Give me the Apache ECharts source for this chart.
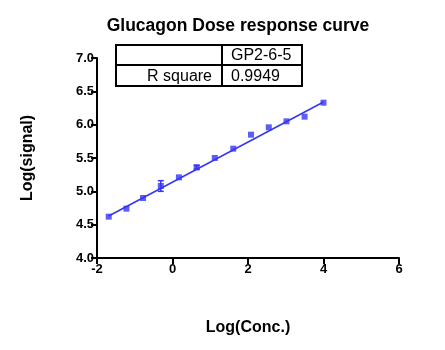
<!DOCTYPE html>
<html><head><meta charset="utf-8">
<script src="https://cdn.jsdelivr.net/npm/echarts@6/dist/echarts.min.js"></script>
<style>html,body{margin:0;padding:0;background:#fff}#c{width:445px;height:350px}</style>
</head><body><div id="c"></div>
<script>
const logConc = [-1.69, -1.22, -0.78, -0.31, 0.17, 0.64, 1.12, 1.61, 2.08, 2.55, 3.02, 3.50, 4.00];
const logSignal = [4.62, 4.74, 4.90, 5.08, 5.21, 5.36, 5.50, 5.64, 5.85, 5.96, 6.05, 6.12, 6.33];
const errBar = [0, 0, 0, 0.08, 0, 0.03, 0, 0, 0, 0, 0, 0, 0];
const fitX = [-1.69, 4.00];
const fitY = [4.63, 6.34];
const xTicks = [-2, 0, 2, 4, 6];
const yTicks = [4.0, 4.5, 5.0, 5.5, 6.0, 6.5, 7.0];
const tableRows = [["", "GP2-6-5"], ["R square", "0.9949"]];

const blue = '#3535f5';
const font = 'Liberation Sans, Arial, sans-serif';
const chart = echarts.init(document.getElementById('c'), null, {renderer: 'canvas'});

const pts = logConc.map((x, i) => [x, logSignal[i]]);
const errData = logConc.map((x, i) => [x, logSignal[i] - errBar[i], logSignal[i] + errBar[i]]).filter((d, i) => errBar[i] > 0);

const tx = 116, ty = 45, tw = 186, th = 41, colX = 222, rowY = 65;
const tableGraphic = [
  {type: 'rect', shape: {x: tx, y: ty, width: tw, height: th}, style: {fill: '#fff', stroke: '#000', lineWidth: 2}},
  {type: 'line', shape: {x1: tx, y1: rowY, x2: tx + tw, y2: rowY}, style: {stroke: '#000', lineWidth: 2}},
  {type: 'line', shape: {x1: colX, y1: ty, x2: colX, y2: ty + th}, style: {stroke: '#000', lineWidth: 2}},
  {type: 'text', style: {text: tableRows[0][1], x: colX + 9, y: (ty + rowY) / 2 + 1, font: '16px ' + font, fill: '#000', textVerticalAlign: 'middle'}},
  {type: 'text', style: {text: tableRows[1][0], x: colX - 10, y: (rowY + ty + th) / 2 + 1, font: '16px ' + font, fill: '#000', textAlign: 'right', textVerticalAlign: 'middle'}},
  {type: 'text', style: {text: tableRows[1][1], x: colX + 9, y: (rowY + ty + th) / 2 + 1, font: '16px ' + font, fill: '#000', textVerticalAlign: 'middle'}}
];

chart.setOption({
  animation: false,
  backgroundColor: '#fff',
  title: {text: 'Glucagon Dose response curve', left: 233, textAlign: 'center', top: 12,
    textStyle: {fontFamily: font, fontWeight: 'bold', fontSize: 17.5, color: '#000'}},
  grid: {left: 97, right: 46, top: 58, bottom: 92},
  xAxis: {type: 'value', min: xTicks[0], max: xTicks[xTicks.length - 1], interval: 2,
    name: 'Log(Conc.)', nameLocation: 'middle', nameGap: 62,
    nameTextStyle: {fontFamily: font, fontWeight: 'bold', fontSize: 16, color: '#000'},
    axisLine: {onZero: false, lineStyle: {color: '#000', width: 2}},
    axisTick: {show: true, length: 6, lineStyle: {color: '#000', width: 2}},
    axisLabel: {fontFamily: font, fontWeight: 'bold', fontSize: 13, color: '#000', margin: 5},
    splitLine: {show: false}},
  yAxis: {type: 'value', min: yTicks[0], max: yTicks[yTicks.length - 1], interval: 0.5,
    name: 'Log(signal)', nameLocation: 'middle', nameGap: 61, nameRotate: 90,
    nameTextStyle: {fontFamily: font, fontWeight: 'bold', fontSize: 16, color: '#000'},
    axisLine: {show: true, onZero: false, lineStyle: {color: '#000', width: 2}},
    axisTick: {show: true, length: 6, lineStyle: {color: '#000', width: 2}},
    axisLabel: {fontFamily: font, fontWeight: 'bold', fontSize: 13, color: '#000', margin: 3,
      formatter: v => v.toFixed(1)},
    splitLine: {show: false}},
  series: [
    {type: 'line', data: fitX.map((x, i) => [x, fitY[i]]), symbol: 'none',
      lineStyle: {color: blue, width: 1.5}, z: 2},
    {type: 'custom', data: errData, z: 3,
      renderItem: (params, api) => {
        const lo = api.coord([api.value(0), api.value(1)]);
        const hi = api.coord([api.value(0), api.value(2)]);
        const w = 3;
        return {type: 'group', children: [
          {type: 'line', shape: {x1: lo[0], y1: lo[1], x2: hi[0], y2: hi[1]}, style: {stroke: blue, lineWidth: 1.5}},
          {type: 'line', shape: {x1: lo[0] - w, y1: lo[1], x2: lo[0] + w, y2: lo[1]}, style: {stroke: blue, lineWidth: 1.5}},
          {type: 'line', shape: {x1: hi[0] - w, y1: hi[1], x2: hi[0] + w, y2: hi[1]}, style: {stroke: blue, lineWidth: 1.5}}
        ]};
      }},
    {type: 'scatter', data: pts, symbol: 'rect', symbolSize: 6,
      itemStyle: {color: blue}, z: 4}
  ],
  graphic: tableGraphic
});
</script></body></html>
